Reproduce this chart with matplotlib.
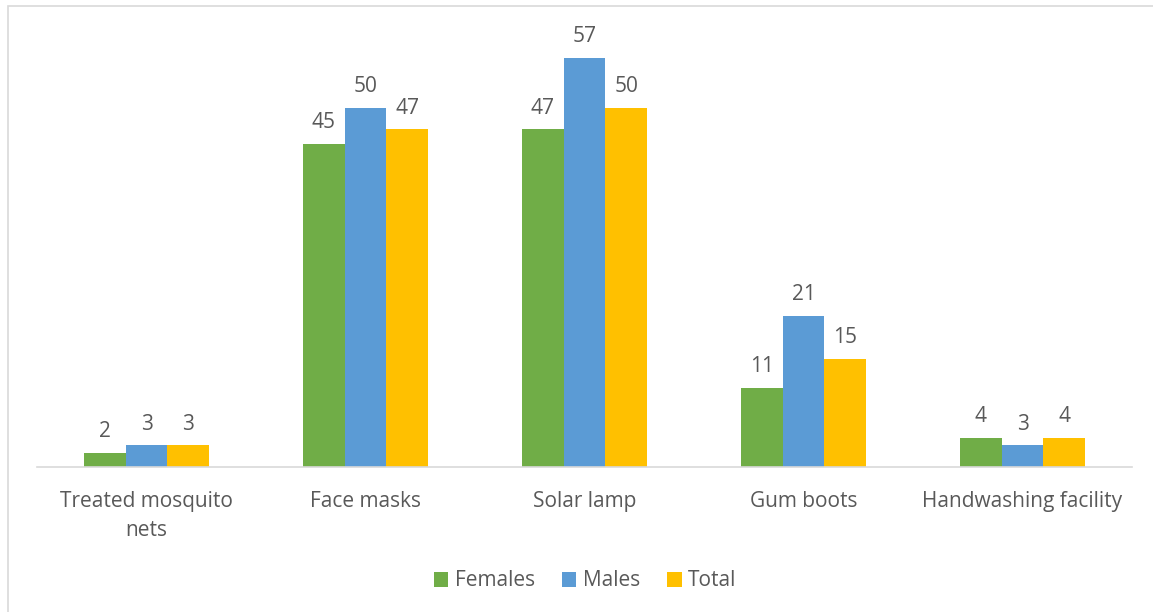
import matplotlib.pyplot as plt
import numpy as np
from matplotlib.patches import Rectangle

categories = ["Treated mosquito\nnets", "Face masks", "Solar lamp", "Gum boots", "Handwashing facility"]
females = [2, 45, 47, 11, 4]
males = [3, 50, 57, 21, 3]
total = [3, 47, 50, 15, 4]

series = [("Females", females, "#70AD47"),
          ("Males", males, "#5B9BD5"),
          ("Total", total, "#FFC000")]

plt.rcParams['font.family'] = ['Open Sans', 'DejaVu Sans']
text_color = "#595959"
fs = 15

fig = plt.figure(figsize=(11.53, 6.12), dpi=100)
ax = fig.add_axes([37 / 1153, 1 - 467 / 612, 1095 / 1153, 431 / 612])

x = np.arange(len(categories))
w = 0.19
for i, (name, vals, color) in enumerate(series):
    pos = x + (i - 1) * w
    bars = ax.bar(pos, vals, width=w, color=color, label=name, zorder=2)
    for b, v in zip(bars, vals):
        ax.text(b.get_x() + b.get_width() / 2, v + 1.5, str(v), ha='center', va='bottom',
                fontsize=fs, color=text_color)

ax.set_xlim(-0.5, len(categories) - 0.5)
ax.set_ylim(0, 60)
ax.set_yticks([])
ax.set_xticks(x)
ax.set_xticklabels(categories, fontsize=fs, color=text_color, linespacing=1.55)
ax.tick_params(axis='x', length=0, pad=17)
for s in ['top', 'left', 'right']:
    ax.spines[s].set_visible(False)
ax.spines['bottom'].set_color("#D9D9D9")
ax.spines['bottom'].set_linewidth(1.2)

leg = fig.legend(loc='center', bbox_to_anchor=(585 / 1153, 1 - 581 / 612), ncol=3, frameon=False,
                 fontsize=fs, handlelength=0.7, handleheight=0.7, handletextpad=0.3, columnspacing=1.3)
for t in leg.get_texts():
    t.set_color(text_color)

# chart border
fig.patches.append(Rectangle((8 / 1153, -0.01), 1.1, 1 - 6 / 612 + 0.01, transform=fig.transFigure,
                             fill=False, edgecolor="#D9D9D9", linewidth=1.2))

fig.savefig("out.png", dpi=100)
